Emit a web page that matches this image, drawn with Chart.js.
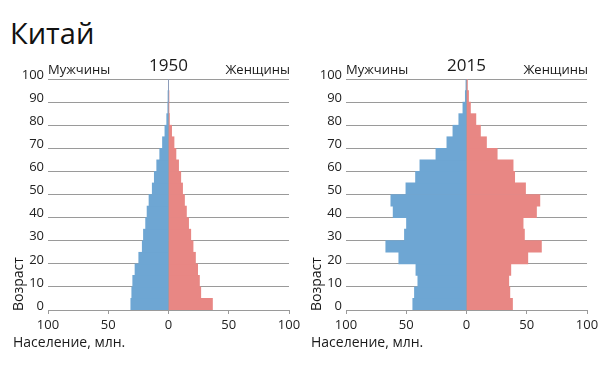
<!DOCTYPE html>
<html>
<head>
<meta charset="utf-8">
<script src="https://cdn.jsdelivr.net/npm/chart.js@4/dist/chart.umd.min.js"></script>
<style>
  body { margin: 0; background: #fff; }
  #wrap { position: relative; width: 600px; height: 367px; overflow: hidden; }
  #title { position: absolute; left: 10px; top: 13px; font: 29px "Open Sans", sans-serif; color: #111; }
  canvas { position: absolute; top: 0; }
</style>
</head>
<body>
<div id="wrap">
  <div id="title">Китай</div>
  <canvas id="c1950" width="305" height="367" style="left:0"></canvas>
  <canvas id="c2015" width="305" height="367" style="left:300px"></canvas>
</div>
<script>
// Возрастные группы (начало интервала, 5 лет)
const ages = [0, 5, 10, 15, 20, 25, 30, 35, 40, 45, 50, 55, 60, 65, 70, 75, 80, 85, 90, 95];

// Население, млн. (оценка по картинке)
const male1950   = [31.3, 30.5, 29.7, 27.8, 24.7, 21.8, 20.8, 19.0, 17.8, 16.2, 13.5, 11.8, 9.8, 7.3, 5.0, 3.0, 1.5, 0.6, 0.1, 0];
const female1950 = [36.5, 26.8, 25.7, 24.2, 22.4, 20.4, 18.5, 16.7, 14.9, 13.3, 11.7, 10.2, 8.4, 6.2, 4.6, 2.6, 0.8, 0.3, 0.1, 0];
const male2015   = [44.6, 43.2, 40.4, 42.0, 56.2, 67.0, 51.5, 49.8, 60.9, 62.8, 50.3, 42.3, 38.7, 25.4, 16.3, 11.3, 6.4, 3.0, 1.0, 0.5];
const female2015 = [38.2, 36.0, 35.1, 36.8, 50.9, 62.2, 48.1, 47.0, 58.1, 60.9, 49.0, 40.0, 38.7, 25.5, 16.6, 11.6, 7.8, 3.3, 1.7, 0.8];

const font = '"Open Sans", sans-serif';
const grey = '#9a9a9a';

// Подписи над графиком и названия осей
function labelsPlugin(year) {
    return {
        id: 'labels' + year,
        afterDraw(chart) {
            const ctx = chart.ctx;
            const area = chart.chartArea;
            const x0 = chart.scales.x.getPixelForValue(0);
            ctx.save();
            ctx.fillStyle = '#1a1a1a';
            ctx.textBaseline = 'alphabetic';
            ctx.font = '13px ' + font;
            ctx.textAlign = 'left';
            ctx.fillText('Мужчины', area.left, 74);
            ctx.textAlign = 'right';
            ctx.fillText('Женщины', area.right + 1, 74);
            ctx.font = '17px ' + font;
            ctx.textAlign = 'center';
            ctx.fillText(String(year), x0, 71);
            ctx.font = '14px ' + font;
            ctx.textAlign = 'left';
            ctx.fillText('Население, млн.', area.left - 35, 347);
            ctx.translate(area.left - 29, area.bottom + 1);
            ctx.rotate(-Math.PI / 2);
            ctx.textBaseline = 'middle';
            ctx.fillText('Возраст', 0, 0);
            ctx.restore();
        }
    };
}

function makeChart(id, year, males, females, yWidth, padRight) {
    const data = {
        datasets: [{
            label: 'Мужчины',
            data: ages.map((a, i) => ({ x: -males[i], y: a + 2.5 })),
            backgroundColor: '#6ea6d3'
        }, {
            label: 'Женщины',
            data: ages.map((a, i) => ({ x: females[i], y: a + 2.5 })),
            backgroundColor: '#e88784'
        }]
    };

    new Chart(document.getElementById(id), {
        type: 'bar',
        data: data,
        options: {
            indexAxis: 'y',
            responsive: false,
            animation: false,
            layout: { padding: { top: 79, left: 0, right: padRight, bottom: 27 } },
            datasets: { bar: { barPercentage: 1, categoryPercentage: 1 } },
            plugins: { legend: { display: false }, tooltip: { enabled: false } },
            scales: {
                x: {
                    type: 'linear',
                    stacked: true,
                    min: -100,
                    max: 100,
                    afterFit: s => { s.height = 30; },
                    ticks: {
                        stepSize: 50,
                        padding: 3,
                        color: '#222',
                        font: { family: font, size: 13 },
                        callback: v => Math.abs(v)
                    },
                    grid: {
                        color: c => (c.tick && c.tick.value === 0) ? grey : 'transparent',
                        tickColor: grey,
                        tickLength: 4
                    },
                    border: { display: true, color: grey }
                },
                y: {
                    type: 'linear',
                    stacked: true,
                    min: 0,
                    max: 100,
                    offset: false,
                    afterFit: s => { s.width = yWidth; },
                    ticks: {
                        stepSize: 10,
                        padding: 4,
                        labelOffset: -4,
                        color: '#222',
                        font: { family: font, size: 13 }
                    },
                    grid: { offset: false, color: grey, drawTicks: false },
                    border: { display: false }
                }
            }
        },
        plugins: [labelsPlugin(year)]
    });
}

makeChart('c1950', 1950, male1950, female1950, 48, 16);
makeChart('c2015', 2015, male2015, female2015, 46, 18);
</script>
</body>
</html>
